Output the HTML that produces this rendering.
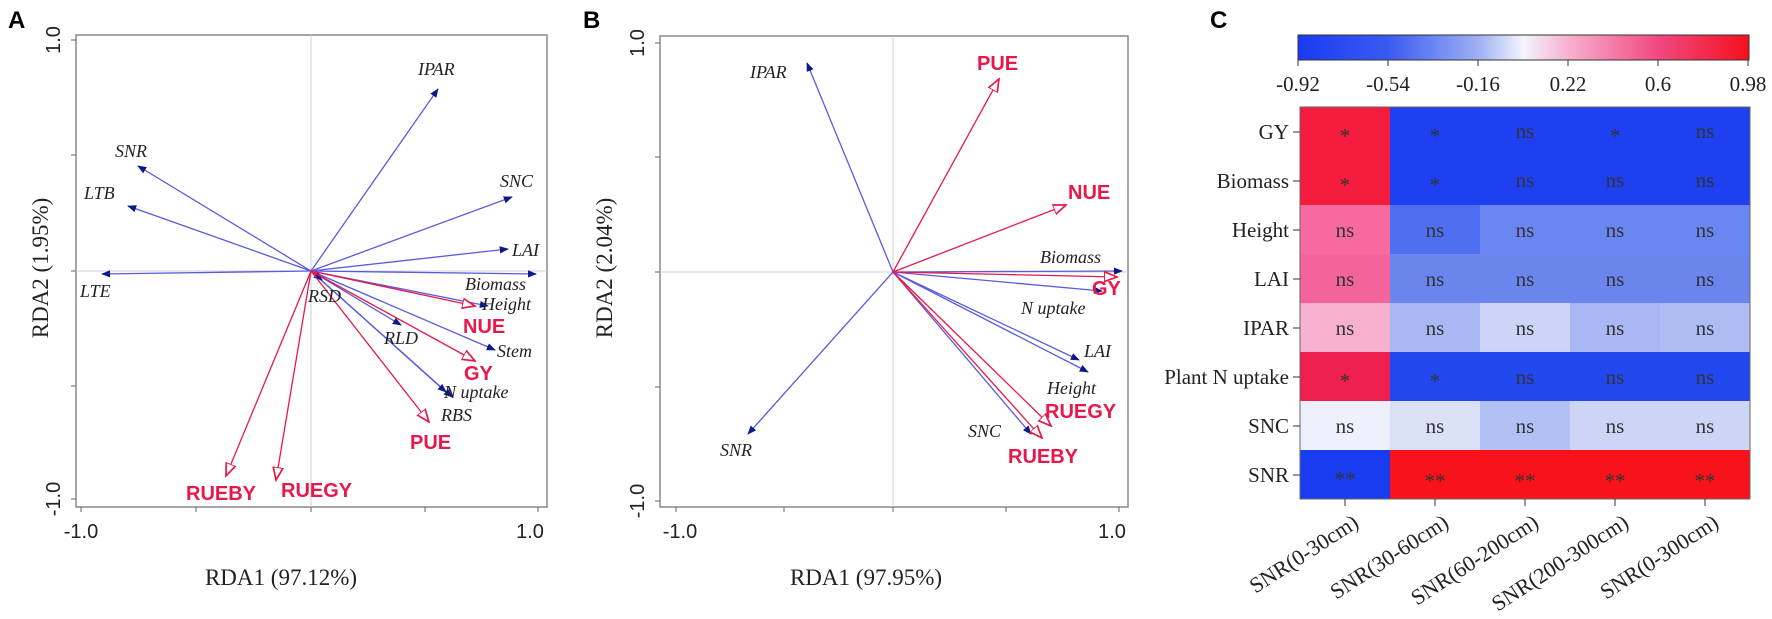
<!DOCTYPE html>
<html><head><meta charset="utf-8"><style>
html,body{margin:0;padding:0;background:#fff;}
svg{display:block;}
.it{font-family:"Liberation Serif",serif;font-style:italic;font-size:18px;fill:#222;}
.rd{font-family:"Liberation Sans",sans-serif;font-weight:bold;font-size:20px;fill:#e8194a;}
.ax{font-family:"Liberation Serif",serif;font-size:23px;fill:#222;}
.tk{font-family:"Liberation Sans",sans-serif;font-size:20px;fill:#222;}
.ht{font-family:"Liberation Serif",serif;font-size:21px;fill:#222;}
.xl{font-family:"Liberation Serif",serif;font-size:22px;fill:#222;}
.cell{font-family:"Liberation Serif",serif;font-size:21px;fill:#333;text-anchor:middle;}
.pl{font-family:"Liberation Sans",sans-serif;font-weight:bold;font-size:24px;fill:#000;}
</style></head><body>
<svg width="1772" height="619" viewBox="0 0 1772 619" xmlns="http://www.w3.org/2000/svg">
<defs>
<marker id="bh" viewBox="0 0 10 10" refX="9" refY="5" markerWidth="7" markerHeight="7" orient="auto-start-reverse"><path d="M0,1 L10,5 L0,9 z" fill="#0a1a8a"/></marker>
<marker id="rh" viewBox="0 0 10 10" refX="9" refY="5" markerWidth="11" markerHeight="11" orient="auto"><path d="M0,1.5 L9,5 L0,8.5 z" fill="#fff" stroke="#e8194a" stroke-width="1.2"/></marker>
<linearGradient id="cb" x1="0" x2="1" y1="0" y2="0">
<stop offset="0" stop-color="#1a3cf2"/><stop offset="0.2" stop-color="#3a5af2"/><stop offset="0.4" stop-color="#9fb0f4"/><stop offset="0.5" stop-color="#f4f4fb"/><stop offset="0.6" stop-color="#f7b0cf"/><stop offset="0.8" stop-color="#f04880"/><stop offset="1" stop-color="#f5101c"/>
</linearGradient>
</defs>
<rect width="1772" height="619" fill="#fff"/>

<!-- Panel A -->
<text class="pl" x="8" y="28">A</text>
<rect x="76" y="35" width="471" height="472" fill="none" stroke="#888" stroke-width="1.5"/>
<line x1="311" y1="35" x2="311" y2="507" stroke="#ccd" stroke-width="1"/>
<line x1="76" y1="271" x2="547" y2="271" stroke="#ccd" stroke-width="1"/>
<g stroke="#666" stroke-width="1">
<line x1="81" y1="507" x2="81" y2="512"/><line x1="196" y1="507" x2="196" y2="512"/><line x1="311" y1="507" x2="311" y2="512"/><line x1="425" y1="507" x2="425" y2="512"/><line x1="538" y1="507" x2="538" y2="512"/>
<line x1="71" y1="40" x2="76" y2="40"/><line x1="71" y1="155" x2="76" y2="155"/><line x1="71" y1="271" x2="76" y2="271"/><line x1="71" y1="386" x2="76" y2="386"/><line x1="71" y1="499" x2="76" y2="499"/>
</g>
<text class="tk" x="81" y="538" text-anchor="middle">-1.0</text>
<text class="tk" x="530" y="538" text-anchor="middle">1.0</text>
<text class="tk" transform="translate(60,40) rotate(-90)" text-anchor="middle">1.0</text>
<text class="tk" transform="translate(60,499) rotate(-90)" text-anchor="middle">-1.0</text>
<text class="ax" x="281" y="585" text-anchor="middle">RDA1 (97.12%)</text>
<text class="ax" transform="translate(48,268) rotate(-90)" text-anchor="middle">RDA2 (1.95%)</text>
<g stroke="#5a5ae0" stroke-width="1.3" marker-end="url(#bh)" fill="none">
<line x1="311" y1="271" x2="438" y2="89"/>
<line x1="311" y1="271" x2="512" y2="197"/>
<line x1="311" y1="271" x2="138" y2="166"/>
<line x1="311" y1="271" x2="128" y2="206"/>
<line x1="311" y1="271" x2="102" y2="274"/>
<line x1="311" y1="271" x2="508" y2="249"/>
<line x1="311" y1="271" x2="536" y2="274"/>
<line x1="311" y1="271" x2="488" y2="306"/>
<line x1="311" y1="271" x2="495" y2="350"/>
<line x1="311" y1="271" x2="452" y2="397"/>
<line x1="311" y1="271" x2="401" y2="325"/>
<line x1="311" y1="271" x2="446" y2="392"/>
<line x1="311" y1="271" x2="322" y2="280"/>
</g>
<g stroke="#e8194a" stroke-width="1.3" marker-end="url(#rh)" fill="none">
<line x1="311" y1="271" x2="475" y2="306"/>
<line x1="311" y1="271" x2="475" y2="361"/>
<line x1="311" y1="271" x2="429" y2="422"/>
<line x1="311" y1="271" x2="226" y2="476"/>
<line x1="311" y1="271" x2="276" y2="480"/>
</g>
<text class="it" x="418" y="75">IPAR</text>
<text class="it" x="500" y="187">SNC</text>
<text class="it" x="115" y="157">SNR</text>
<text class="it" x="84" y="199">LTB</text>
<text class="it" x="80" y="297">LTE</text>
<text class="it" x="512" y="256">LAI</text>
<text class="it" x="465" y="290">Biomass</text>
<text class="it" x="482" y="310">Height</text>
<text class="it" x="497" y="357">Stem</text>
<text class="it" x="444" y="398">N uptake</text>
<text class="it" x="384" y="344">RLD</text>
<text class="it" x="441" y="421">RBS</text>
<text class="it" x="308" y="302">RSD</text>
<text class="rd" x="463" y="333">NUE</text>
<text class="rd" x="464" y="380">GY</text>
<text class="rd" x="410" y="449">PUE</text>
<text class="rd" x="186" y="500">RUEBY</text>
<text class="rd" x="281" y="497">RUEGY</text>

<!-- Panel B -->
<text class="pl" x="583" y="28">B</text>
<rect x="660" y="36" width="468" height="471" fill="none" stroke="#888" stroke-width="1.5"/>
<line x1="893" y1="36" x2="893" y2="507" stroke="#ccd" stroke-width="1"/>
<line x1="660" y1="272" x2="1128" y2="272" stroke="#ccd" stroke-width="1"/>
<g stroke="#666" stroke-width="1">
<line x1="676" y1="507" x2="676" y2="512"/><line x1="784" y1="507" x2="784" y2="512"/><line x1="893" y1="507" x2="893" y2="512"/><line x1="1006" y1="507" x2="1006" y2="512"/><line x1="1119" y1="507" x2="1119" y2="512"/>
<line x1="655" y1="43" x2="660" y2="43"/><line x1="655" y1="157" x2="660" y2="157"/><line x1="655" y1="272" x2="660" y2="272"/><line x1="655" y1="387" x2="660" y2="387"/><line x1="655" y1="501" x2="660" y2="501"/>
</g>
<text class="tk" x="680" y="538" text-anchor="middle">-1.0</text>
<text class="tk" x="1112" y="538" text-anchor="middle">1.0</text>
<text class="tk" transform="translate(644,43) rotate(-90)" text-anchor="middle">1.0</text>
<text class="tk" transform="translate(644,501) rotate(-90)" text-anchor="middle">-1.0</text>
<text class="ax" x="866" y="585" text-anchor="middle">RDA1 (97.95%)</text>
<text class="ax" transform="translate(612,268) rotate(-90)" text-anchor="middle">RDA2 (2.04%)</text>
<g stroke="#5a5ae0" stroke-width="1.3" marker-end="url(#bh)" fill="none">
<line x1="893" y1="272" x2="807" y2="63"/>
<line x1="893" y1="272" x2="1122" y2="271"/>
<line x1="893" y1="272" x2="1102" y2="291"/>
<line x1="893" y1="272" x2="1079" y2="360"/>
<line x1="893" y1="272" x2="1088" y2="372"/>
<line x1="893" y1="272" x2="1031" y2="434"/>
<line x1="893" y1="272" x2="748" y2="434"/>
</g>
<g stroke="#e8194a" stroke-width="1.3" marker-end="url(#rh)" fill="none">
<line x1="893" y1="272" x2="999" y2="79"/>
<line x1="893" y1="272" x2="1066" y2="205"/>
<line x1="893" y1="272" x2="1117" y2="277"/>
<line x1="893" y1="272" x2="1051" y2="426"/>
<line x1="893" y1="272" x2="1042" y2="438"/>
</g>
<text class="it" x="750" y="78">IPAR</text>
<text class="it" x="1040" y="263">Biomass</text>
<text class="it" x="1021" y="314">N uptake</text>
<text class="it" x="1084" y="357">LAI</text>
<text class="it" x="1047" y="394">Height</text>
<text class="it" x="968" y="437">SNC</text>
<text class="it" x="720" y="456">SNR</text>
<text class="rd" x="977" y="70">PUE</text>
<text class="rd" x="1068" y="199">NUE</text>
<text class="rd" x="1092" y="295">GY</text>
<text class="rd" x="1045" y="418">RUEGY</text>
<text class="rd" x="1008" y="463">RUEBY</text>

<!-- Panel C -->
<text class="pl" x="1210" y="28">C</text>
<rect x="1298" y="35" width="451" height="25" fill="url(#cb)" stroke="#333" stroke-width="1"/>
<g stroke="#333" stroke-width="1">
<line x1="1298" y1="60" x2="1298" y2="66"/><line x1="1388" y1="60" x2="1388" y2="66"/><line x1="1478" y1="60" x2="1478" y2="66"/><line x1="1568" y1="60" x2="1568" y2="66"/><line x1="1658" y1="60" x2="1658" y2="66"/><line x1="1748" y1="60" x2="1748" y2="66"/>
</g>
<g class="ht" text-anchor="middle">
<text x="1298" y="91">-0.92</text><text x="1388" y="91">-0.54</text><text x="1478" y="91">-0.16</text><text x="1568" y="91">0.22</text><text x="1658" y="91">0.6</text><text x="1748" y="91">0.98</text>
</g>
<g>
<rect x="1300" y="107" width="90" height="50" fill="#f41c3c"/><rect x="1390" y="107" width="360" height="50" fill="#1e40f0"/>
<rect x="1300" y="156" width="90" height="50" fill="#f41c3c"/><rect x="1390" y="156" width="360" height="50" fill="#1e40f0"/>
<rect x="1300" y="205" width="90" height="50" fill="#f66aa0"/><rect x="1390" y="205" width="90" height="50" fill="#4f6ef0"/><rect x="1480" y="205" width="270" height="50" fill="#6a86f0"/>
<rect x="1300" y="254" width="90" height="50" fill="#f4649c"/><rect x="1390" y="254" width="360" height="50" fill="#6a86ee"/>
<rect x="1300" y="303" width="90" height="50" fill="#f7b0cf"/><rect x="1390" y="303" width="90" height="50" fill="#a9b8f3"/><rect x="1480" y="303" width="90" height="50" fill="#ccd5f7"/><rect x="1570" y="303" width="90" height="50" fill="#a9b8f3"/><rect x="1660" y="303" width="90" height="50" fill="#aebcf4"/>
<rect x="1300" y="352" width="90" height="50" fill="#ee2050"/><rect x="1390" y="352" width="360" height="50" fill="#2147ee"/>
<rect x="1300" y="401" width="90" height="50" fill="#eef0fb"/><rect x="1390" y="401" width="90" height="50" fill="#dbe0f9"/><rect x="1480" y="401" width="90" height="50" fill="#b2c0f4"/><rect x="1570" y="401" width="180" height="50" fill="#cdd5f7"/>
<rect x="1300" y="450" width="90" height="49" fill="#1a3cf0"/><rect x="1390" y="450" width="360" height="49" fill="#f8121c"/>
</g>
<rect x="1300" y="107" width="450" height="392" fill="none" stroke="#666" stroke-width="1"/>
<g stroke="#333" stroke-width="1">
<line x1="1293" y1="132" x2="1300" y2="132"/><line x1="1293" y1="181" x2="1300" y2="181"/><line x1="1293" y1="230" x2="1300" y2="230"/><line x1="1293" y1="279" x2="1300" y2="279"/><line x1="1293" y1="328" x2="1300" y2="328"/><line x1="1293" y1="377" x2="1300" y2="377"/><line x1="1293" y1="426" x2="1300" y2="426"/><line x1="1293" y1="475" x2="1300" y2="475"/>
<line x1="1345" y1="499" x2="1345" y2="506"/><line x1="1435" y1="499" x2="1435" y2="506"/><line x1="1525" y1="499" x2="1525" y2="506"/><line x1="1615" y1="499" x2="1615" y2="506"/><line x1="1705" y1="499" x2="1705" y2="506"/>
</g>
<g class="ht" text-anchor="end">
<text x="1289" y="139">GY</text><text x="1289" y="188">Biomass</text><text x="1289" y="237">Height</text><text x="1289" y="286">LAI</text><text x="1289" y="335">IPAR</text><text x="1289" y="384">Plant N uptake</text><text x="1289" y="433">SNC</text><text x="1289" y="482">SNR</text>
</g>
<g class="cell">
<text x="1345" y="143">*</text><text x="1435" y="143">*</text><text x="1525" y="138">ns</text><text x="1615" y="143">*</text><text x="1705" y="138">ns</text>
<text x="1345" y="192">*</text><text x="1435" y="192">*</text><text x="1525" y="187">ns</text><text x="1615" y="187">ns</text><text x="1705" y="187">ns</text>
<text x="1345" y="237">ns</text><text x="1435" y="237">ns</text><text x="1525" y="237">ns</text><text x="1615" y="237">ns</text><text x="1705" y="237">ns</text>
<text x="1345" y="286">ns</text><text x="1435" y="286">ns</text><text x="1525" y="286">ns</text><text x="1615" y="286">ns</text><text x="1705" y="286">ns</text>
<text x="1345" y="335">ns</text><text x="1435" y="335">ns</text><text x="1525" y="335">ns</text><text x="1615" y="335">ns</text><text x="1705" y="335">ns</text>
<text x="1345" y="388">*</text><text x="1435" y="388">*</text><text x="1525" y="384">ns</text><text x="1615" y="384">ns</text><text x="1705" y="384">ns</text>
<text x="1345" y="433">ns</text><text x="1435" y="433">ns</text><text x="1525" y="433">ns</text><text x="1615" y="433">ns</text><text x="1705" y="433">ns</text>
<text x="1345" y="486">**</text><text x="1435" y="488">**</text><text x="1525" y="488">**</text><text x="1615" y="488">**</text><text x="1705" y="488">**</text>
</g>
<g class="xl" text-anchor="end">
<text transform="translate(1360,526) rotate(-33)">SNR(0-30cm)</text>
<text transform="translate(1450,526) rotate(-33)">SNR(30-60cm)</text>
<text transform="translate(1540,526) rotate(-33)">SNR(60-200cm)</text>
<text transform="translate(1630,526) rotate(-33)">SNR(200-300cm)</text>
<text transform="translate(1720,526) rotate(-33)">SNR(0-300cm)</text>
</g>
</svg>
</body></html>
